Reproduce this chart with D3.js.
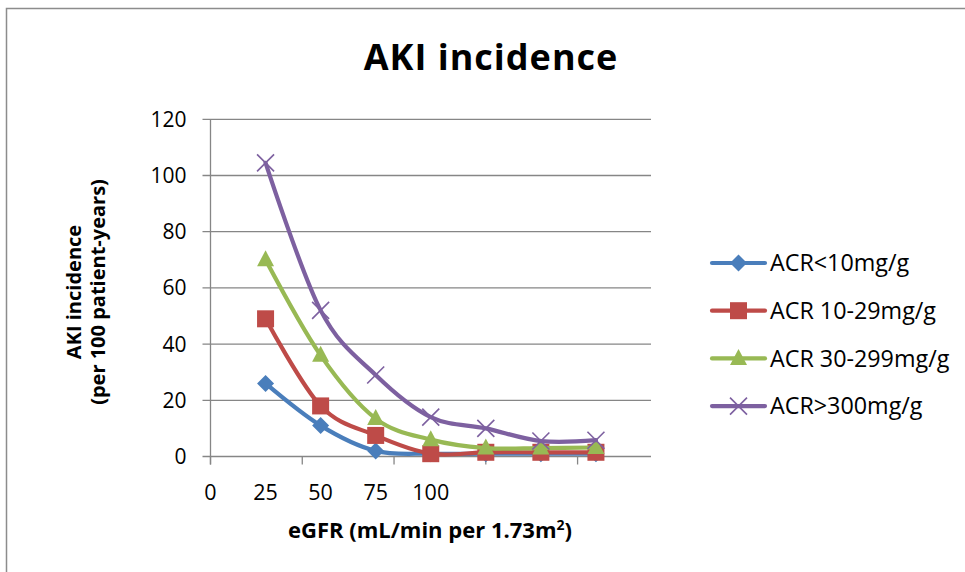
<!DOCTYPE html>
<html>
<head>
<meta charset="utf-8">
<script src="https://cdn.jsdelivr.net/npm/d3@7"></script>
<style>
  html, body { margin: 0; padding: 0; background: #fff; }
  svg { display: block; font-family: "Open Sans", "Lato", "DejaVu Sans", sans-serif; }
</style>
</head>
<body>
<svg id="chart" width="965" height="572"></svg>
<script>
// eGFR group midpoints (x values of the points)
const egfr = [15, 30, 45, 60, 75, 90, 105];

// AKI incidence per 100 patient-years for each albuminuria group
const acrLow   = [26, 11, 2, 1, 1, 1, 1];
const acrMild  = [49, 18, 7.5, 1, 1.5, 1.5, 1.5];
const acrMod   = [70, 36, 13.5, 6, 3, 3, 3.2];
const acrHigh  = [104.5, 52, 29, 14, 10, 5.5, 5.8];

const seriesNames = ["ACR<10mg/g", "ACR 10-29mg/g", "ACR 30-299mg/g", "ACR>300mg/g"];
const seriesColors = ["#4a7ebb", "#be4b48", "#98b954", "#7d60a0"];
const seriesMarkers = ["diamond", "square", "triangle", "cross"];

// axis ticks
const yTicks = [0, 20, 40, 60, 80, 100, 120];
const xTickMarks = [0, 25, 50, 75, 100];
const xTickLabels = ["0", "25", "50", "75", "100"];
const xLabelPositions = [0, 15, 30, 45, 60];

const svg = d3.select("#chart");

// outer chart frame
svg.append("rect")
  .attr("x", 6.5).attr("y", 8.5)
  .attr("width", 1000).attr("height", 600)
  .attr("fill", "#fff")
  .attr("stroke", "#8c8c8c").attr("stroke-width", 1.5);

const plot = { left: 210.5, right: 651, top: 119.3, bottom: 456.5 };

const x = d3.scaleLinear().domain([0, 120]).range([plot.left, plot.right]);
const y = d3.scaleLinear().domain([0, 120]).range([plot.bottom, plot.top]);

// horizontal gridlines
svg.append("g")
  .selectAll("line")
  .data(yTicks)
  .join("line")
  .attr("x1", plot.left - 8).attr("x2", plot.right)
  .attr("y1", d => y(d)).attr("y2", d => y(d))
  .attr("stroke", "#868686").attr("stroke-width", 1.3);

// y axis line
svg.append("line")
  .attr("x1", plot.left).attr("x2", plot.left)
  .attr("y1", plot.top).attr("y2", plot.bottom + 8)
  .attr("stroke", "#868686").attr("stroke-width", 1.3);

// x tick marks
svg.append("g")
  .selectAll("line")
  .data(xTickMarks)
  .join("line")
  .attr("x1", d => x(d)).attr("x2", d => x(d))
  .attr("y1", plot.bottom).attr("y2", plot.bottom + 8)
  .attr("stroke", "#868686").attr("stroke-width", 1.3);

// y tick labels
svg.append("g")
  .selectAll("text")
  .data(yTicks)
  .join("text")
  .attr("x", plot.left - 24)
  .attr("y", d => y(d))
  .attr("dy", "0.36em")
  .attr("text-anchor", "end")
  .attr("font-size", 21)
  .attr("fill", "#000")
  .text(d => d);

// x tick labels
svg.append("g")
  .selectAll("text")
  .data(xLabelPositions)
  .join("text")
  .attr("x", d => x(d))
  .attr("y", 500)
  .attr("text-anchor", "middle")
  .attr("font-size", 21.5)
  .attr("fill", "#000")
  .text((d, i) => xTickLabels[i]);

// title
svg.append("text")
  .attr("x", 491).attr("y", 70)
  .attr("text-anchor", "middle")
  .attr("font-size", 36)
  .attr("letter-spacing", 1)
  .attr("font-weight", "bold")
  .text("AKI incidence");

// y axis title
const yt = svg.append("text")
  .attr("transform", "translate(0,292) rotate(-90)")
  .attr("text-anchor", "middle")
  .attr("font-size", 20)
  .attr("font-weight", "bold");
yt.append("tspan").attr("x", 0).attr("y", 81).text("AKI incidence");
yt.append("tspan").attr("x", 0).attr("y", 105).text("(per 100 patient-years)");

// x axis title
const xt = svg.append("text")
  .attr("x", 430).attr("y", 538)
  .attr("text-anchor", "middle")
  .attr("font-size", 22)
  .attr("font-weight", "bold");
xt.append("tspan").text("eGFR (mL/min per 1.73m");
xt.append("tspan").attr("font-size", 14).attr("dy", -8).text("2");
xt.append("tspan").attr("dy", 8).text(")");

const allSeries = [acrLow, acrMild, acrMod, acrHigh].map((vals, i) => ({
  name: seriesNames[i], color: seriesColors[i], marker: seriesMarkers[i],
  points: vals.map((v, j) => ({ x: egfr[j], y: v }))
}));

const line = d3.line()
  .x(d => x(d.x)).y(d => y(d.y))
  .curve(d3.curveCardinal.tension(0));

function drawMarker(g, type, color) {
  if (type === "diamond") {
    g.append("path").attr("d", "M0,-8.5L8.5,0L0,8.5L-8.5,0Z").attr("fill", color);
  } else if (type === "square") {
    g.append("rect").attr("x", -8.5).attr("y", -8.5).attr("width", 17).attr("height", 17).attr("fill", color);
  } else if (type === "triangle") {
    g.append("path").attr("d", "M0,-9.5L8.5,6.5L-8.5,6.5Z").attr("fill", color);
  } else {
    g.append("path").attr("d", "M-8.5,-8.5L8.5,8.5M-8.5,8.5L8.5,-8.5")
      .attr("stroke", color).attr("stroke-width", 1.6).attr("fill", "none");
  }
}

allSeries.forEach(s => {
  const g = svg.append("g");
  g.append("path")
    .attr("d", line(s.points))
    .attr("fill", "none")
    .attr("stroke", s.color)
    .attr("stroke-width", 4.2)
    .attr("stroke-linejoin", "round")
    .attr("stroke-linecap", "round");
  s.points.forEach(p => {
    const m = g.append("g").attr("transform", `translate(${x(p.x)},${y(p.y)})`);
    drawMarker(m, s.marker, s.color);
  });
});

// legend
const legend = svg.append("g");
allSeries.forEach((s, i) => {
  const ly = 263 + i * 47.7;
  const row = legend.append("g").attr("transform", `translate(0,${ly})`);
  row.append("line")
    .attr("x1", 712).attr("x2", 765).attr("y1", 0).attr("y2", 0)
    .attr("stroke", s.color).attr("stroke-width", 4.2).attr("stroke-linecap", "round");
  const m = row.append("g").attr("transform", "translate(738.5,0)");
  drawMarker(m, s.marker, s.color);
  row.append("text")
    .attr("x", 770).attr("y", 0).attr("dy", "0.36em")
    .attr("font-size", 23.3)
    .text(s.name);
});
</script>
</body>
</html>
